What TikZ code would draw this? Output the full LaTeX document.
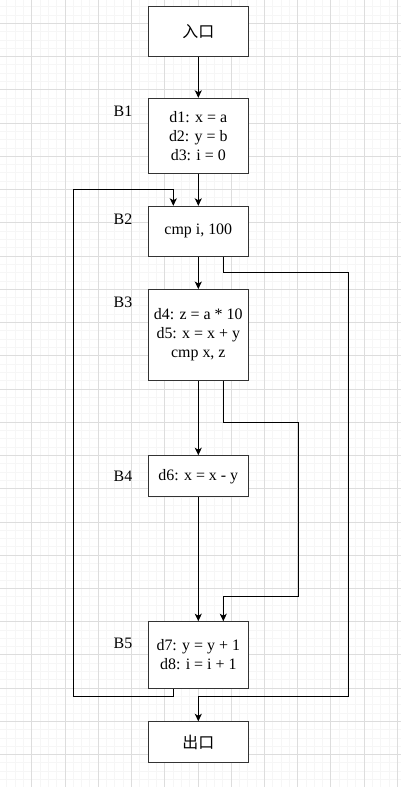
\documentclass[tikz,border=0pt]{standalone}
\usepackage{fontspec}
\setmainfont{Liberation Serif}
\newfontfamily\cjk{Noto Sans CJK SC}
\usetikzlibrary{arrows.meta}
\tikzset{
  minorline/.style={draw=gray!7, line width=0.8bp},
  majorline/.style={draw=gray!27, line width=0.8bp},
  blk/.style={draw=black!80, line width=1bp, fill=white, minimum width=100bp, inner sep=0pt, align=center, font=\fontsize{16}{19.2}\selectfont},
  lbl/.style={font=\fontsize{16}{19.2}\selectfont, inner sep=0pt},
  arr/.style={draw=black, line width=1bp, -{Stealth[length=7.5bp,width=7bp,inset=2bp]}},
}
\begin{document}
\begin{tikzpicture}[x=1bp,y=-1bp]
\useasboundingbox (0,0) rectangle (401,787);
\begin{scope}
\clip (0,0) rectangle (401,787);
\fill[white] (0,0) rectangle (401,787);
\foreach \i in {-4,...,48} { \draw[minorline] ({31.7+\i*8.31},0) -- ({31.7+\i*8.31},787); }
\foreach \i in {-3,...,92} { \draw[minorline] (0,{23.3+\i*8.31}) -- (401,{23.3+\i*8.31}); }
\foreach \i in {-1,...,12} { \draw[majorline] ({31.7+\i*33.24},0) -- ({31.7+\i*33.24},787); }
\foreach \i in {-1,...,23} { \draw[majorline] (0,{23.3+\i*33.24}) -- (401,{23.3+\i*33.24}); }
\end{scope}

\node[blk, minimum height=50bp] (entry) at (198.3,31.3) {\cjk 入口};
\node[blk, minimum height=75bp] (B1) at (198.3,135.8) {d1: x = a\\d2: y = b\\d3: i = 0};
\node[blk, minimum height=50bp] (B2) at (198.3,231.3) {cmp i, 100};
\node[blk, minimum height=90.5bp] (B3) at (198.3,334.8) {d4: z = a * 10\\d5: x = x + y\\cmp x, z};
\node[blk, minimum height=41bp] (B4) at (198.3,476.2) {d6: x = x - y};
\node[blk, minimum height=66.6bp] (B5) at (198.3,655) {d7: y = y + 1\\d8: i = i + 1};
\node[blk, minimum height=41bp] (exit) at (198.3,742.3) {\cjk 出口};

\node[lbl] (L1) at (123,110.8) {B1};
\node[lbl] (L2) at (123,219) {B2};
\node[lbl] (L3) at (123,302) {B3};
\node[lbl] (L4) at (123,476.2) {B4};
\node[lbl] (L5) at (123,643.5) {B5};

\coordinate (l1) at (73.3,696.3);
\coordinate (l2) at (73.3,189.3);
\coordinate (r1) at (348.3,272.3);
\coordinate (r2) at (348.3,696.3);
\coordinate (m1) at (298.3,422.3);
\coordinate (m2) at (298.3,596.7);

\draw[arr] (entry) -- (B1);
\draw[arr] (B1) -- (B2);
\draw[arr] (B2) -- (B3);
\draw[arr] (B3) -- (B4);
\draw[arr] (B4) -- (B5);
\draw[arr] ([xshift=-25bp]B5.south) |- (l1) -- (l2) -| ([xshift=-25bp]B2.north);
\draw[arr] ([xshift=25bp]B2.south) |- (r1) -- (r2) -| (exit.north);
\draw[arr] ([xshift=25bp]B3.south) |- (m1) -- (m2) -| ([xshift=25bp]B5.north);
\end{tikzpicture}
\end{document}
